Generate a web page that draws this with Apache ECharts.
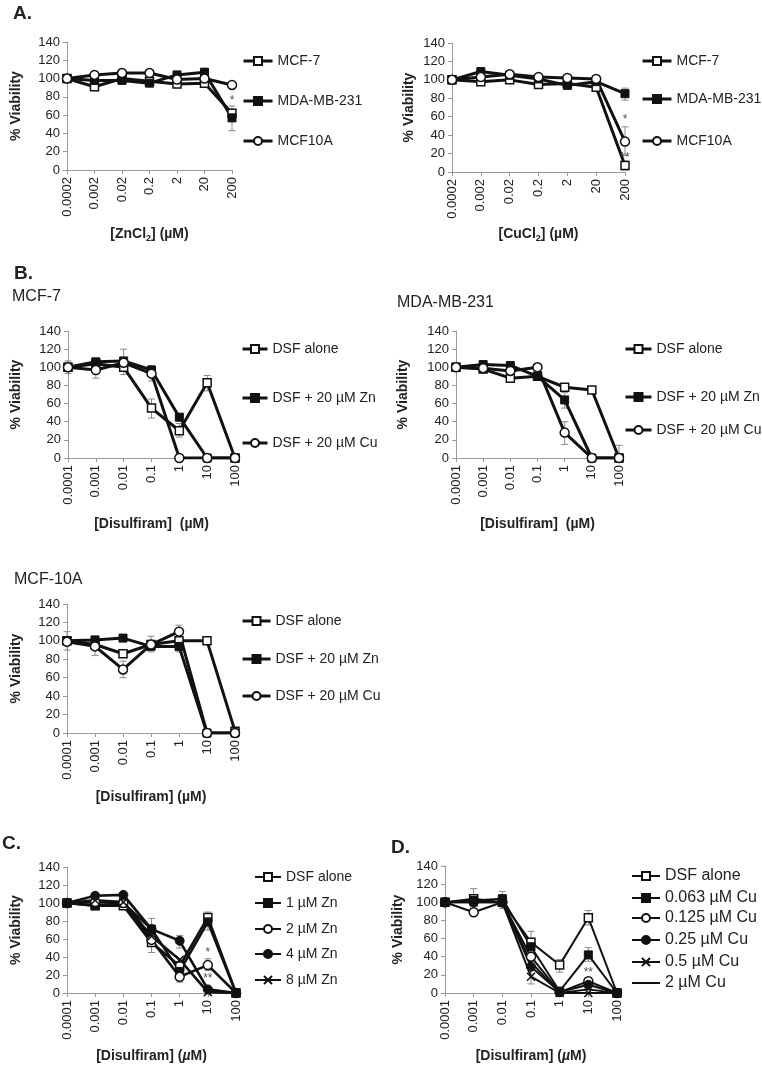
<!DOCTYPE html>
<html><head><meta charset="utf-8">
<script src="https://cdn.jsdelivr.net/npm/echarts@6/dist/echarts.min.js"></script>
<style>html,body{margin:0;padding:0;background:#fff}#c{width:762px;height:1070px}</style>
</head><body><div id="c"></div><script>
// ---------- DATA ----------
const catsMetal = ['0.0002','0.002','0.02','0.2','2','20','200'];
const catsDSF = ['0.0001','0.001','0.01','0.1','1','10','100'];

// Panel A: ZnCl2
const aZn_MCF7   = [100, 91, 100, 97, 94, 95, 62];
const aZn_MDA    = [100, 98, 98, 95, 104, 107, 57];
const aZn_MCF10A = [100, 104, 106, 106, 99, 100, 93];
const aZn_err    = [[6, 43, 70]];
const aZn_stars  = [[6, 76, '*']];

// Panel A: CuCl2
const aCu_MCF7   = [100, 98, 100, 95, 96, 92, 7];
const aCu_MDA    = [100, 109, 105, 101, 94, 98, 85];
const aCu_MCF10A = [100, 103, 106, 103, 102, 101, 33];
const aCu_err    = [[6, 78, 91], [6, 18, 49], [6, 2, 12]];
const aCu_stars  = [[6, 57, '*'], [6, 16, '**']];

// Panel B: MCF-7
const bMCF7_DSF = [100, 104, 100, 55, 30, 83, 0];
const bMCF7_Zn  = [100, 106, 107, 97, 45, 0, 0];
const bMCF7_Cu  = [100, 97, 105, 93, 0, 0, 0];
const bMCF7_err = [[0, 93, 107], [1, 88, 106], [2, 92, 120], [3, 44, 65], [3, 85, 102], [4, 23, 38], [5, 74, 91]];

// Panel B: MDA-MB-231
const bMDA_DSF = [100, 98, 88, 90, 78, 75, 0];
const bMDA_Zn  = [100, 103, 102, 90, 64, 0, 0];
const bMDA_Cu  = [100, 99, 96, 100, 28, 0, 0];
const bMDA_err = [[2, 84, 91], [4, 55, 72], [4, 15, 40], [6, 0, 14]];

// Panel B: MCF-10A
const b10A_DSF = [100, 96, 86, 96, 100, 100, 2];
const b10A_Zn  = [100, 101, 103, 94, 94, 0, 0];
const b10A_Cu  = [99, 94, 69, 96, 110, 0, 0];
const b10A_err = [[0, 90, 110], [1, 84, 100], [2, 60, 78], [3, 88, 105], [4, 103, 117], [4, 88, 100]];

// Panel C: DSF + Zn
const c_DSF  = [100, 97, 97, 56, 30, 84, 0];
const c_Zn1  = [100, 97, 100, 71, 24, 79, 0];
const c_Zn2  = [100, 101, 100, 59, 18, 31, 0];
const c_Zn4  = [100, 108, 109, 71, 58, 4, 0];
const c_Zn8  = [100, 103, 101, 63, 37, 1, 0];
const c_err  = [[3, 45, 65], [3, 60, 83], [4, 12, 30], [4, 50, 64], [5, 70, 90], [5, 25, 38]];
const c_stars = [[5, 45, '*'], [5, 16, '**']];

// Panel D: DSF + Cu
const d_DSF   = [100, 104, 100, 56, 31, 83, 0];
const d_Cu063 = [100, 102, 104, 51, 2, 42, 0];
const d_Cu125 = [100, 89, 100, 40, 1, 13, 0];
const d_Cu25  = [100, 100, 100, 29, 1, 9, 0];
const d_Cu5   = [100, 100, 100, 18, 0, 0, 0];
const d_Cu2   = [100, 101, 100, 34, 0, 4, 0];
const d_err   = [[1, 95, 115], [2, 93, 112], [3, 45, 68], [3, 10, 25], [4, 23, 37], [5, 75, 91], [5, 35, 50]];
const d_stars = [[5, 22, '**']];

// ---------- STYLE / LAYOUT ----------
const FONT = 'Liberation Sans, Arial, sans-serif';
const INK = '#111';
const AXIS = '#9a9a9a';
const SYM = {
  openSq: {symbol: 'rect', symbolSize: 8, itemStyle: {color: '#fff', borderColor: INK, borderWidth: 1.5}},
  fillSq: {symbol: 'rect', symbolSize: 8, itemStyle: {color: INK, borderColor: INK, borderWidth: 1}},
  openCi: {symbol: 'circle', symbolSize: 9, itemStyle: {color: '#fff', borderColor: INK, borderWidth: 1.5}},
  fillCi: {symbol: 'circle', symbolSize: 9, itemStyle: {color: INK, borderColor: INK, borderWidth: 1}},
  cross:  {symbol: 'path://M0,0L10,10M10,0L0,10', symbolSize: 8, itemStyle: {color: INK, borderColor: INK, borderWidth: 1.5}},
  none:   {symbol: 'none', symbolSize: 0, itemStyle: {color: INK}}
};

const xNameMetal = (m) => '{b|[' + m + 'Cl}{s|2}{b|] (µM)}';
const panels = [
  {grid: [67, 42, 165, 128], cats: catsMetal, xName: xNameMetal('Zn'), xGap: 55, yGap: 44, lw: 3,
   series: [['MCF-7', 'openSq', aZn_MCF7], ['MDA-MB-231', 'fillSq', aZn_MDA], ['MCF10A', 'openCi', aZn_MCF10A]],
   err: aZn_err, stars: aZn_stars, leg: {x: 242, ys: [62, 102, 142], w: 29, lw: 3, fs: 14}},
  {grid: [452, 43, 173, 129], cats: catsMetal, xName: xNameMetal('Cu'), xGap: 53, yGap: 36, lw: 3,
   series: [['MCF-7', 'openSq', aCu_MCF7], ['MDA-MB-231', 'fillSq', aCu_MDA], ['MCF10A', 'openCi', aCu_MCF10A]],
   err: aCu_err, stars: aCu_stars, leg: {x: 641, ys: [62, 100, 142], w: 29, lw: 3, fs: 14}},
  {grid: [68, 331, 167, 127], cats: catsDSF, xName: '{b|[Disulfiram]  (µM)}', xGap: 59, yGap: 45, lw: 3,
   series: [['DSF alone', 'openSq', bMCF7_DSF], ['DSF + 20 µM Zn', 'fillSq', bMCF7_Zn], ['DSF + 20 µM Cu', 'openCi', bMCF7_Cu]],
   err: bMCF7_err, stars: [], leg: {x: 241, ys: [350, 399, 444], w: 25, lw: 3, fs: 14}},
  {grid: [456, 331, 163, 127], cats: catsDSF, xName: '{b|[Disulfiram]  (µM)}', xGap: 59, yGap: 46, lw: 3,
   series: [['DSF alone', 'openSq', bMDA_DSF], ['DSF + 20 µM Zn', 'fillSq', bMDA_Zn], ['DSF + 20 µM Cu', 'openCi', bMDA_Cu]],
   err: bMDA_err, stars: [], leg: {x: 624, ys: [350, 398, 431], w: 26, lw: 3, fs: 14}},
  {grid: [67, 604, 168, 129], cats: catsDSF, xName: '{b|[Disulfiram] (µM)}', xGap: 57, yGap: 44, lw: 3,
   series: [['DSF alone', 'openSq', b10A_DSF], ['DSF + 20 µM Zn', 'fillSq', b10A_Zn], ['DSF + 20 µM Cu', 'openCi', b10A_Cu]],
   err: b10A_err, stars: [], leg: {x: 241, ys: [622, 660, 697], w: 28, lw: 3, fs: 14}},
  {grid: [67, 867, 169, 126], cats: catsDSF, xName: '{b|[Disulfiram] (}{i|µ}{b|M)}', xGap: 56, yGap: 44, lw: 2.6,
   series: [['DSF alone', 'openSq', c_DSF], ['1 µM Zn', 'fillSq', c_Zn1], ['2 µM Zn', 'openCi', c_Zn2], ['4 µM Zn', 'fillCi', c_Zn4], ['8 µM Zn', 'cross', c_Zn8]],
   err: c_err, stars: c_stars, leg: {x: 254, ys: [878, 904, 930, 955, 981], w: 26, lw: 2, fs: 14}},
  {grid: [445, 866, 172, 127], cats: catsDSF, xName: '{b|[Disulfiram] (}{i|µ}{b|M)}', xGap: 56, yGap: 40, lw: 2,
   series: [['DSF alone', 'openSq', d_DSF], ['0.063 µM Cu', 'fillSq', d_Cu063], ['0.125 µM Cu', 'openCi', d_Cu125], ['0.25 µM Cu', 'fillCi', d_Cu25], ['0.5 µM Cu', 'cross', d_Cu5], ['2 µM Cu', 'none', d_Cu2]],
   err: d_err, stars: d_stars, leg: {x: 631, ys: [876, 898, 918, 940, 962, 983], w: 28, lw: 2, fs: 16}}
];

const titles = [
  {text: 'A.', left: 13, top: 4, size: 19, bold: true},
  {text: 'B.', left: 14, top: 264, size: 19, bold: true},
  {text: 'MCF-7', left: 12, top: 289, size: 16, bold: false},
  {text: 'MDA-MB-231', left: 397, top: 295, size: 16, bold: false},
  {text: 'MCF-10A', left: 14, top: 572, size: 16, bold: false},
  {text: 'C.', left: 2, top: 834, size: 19, bold: true},
  {text: 'D.', left: 391, top: 838, size: 19, bold: true}
];

// ---------- BUILD ----------
const option = {
  animation: false,
  backgroundColor: '#fff',
  textStyle: {fontFamily: FONT},
  title: titles.map(t => ({text: t.text, left: t.left, top: t.top, padding: 0,
    textStyle: {fontFamily: FONT, fontSize: t.size, fontWeight: t.bold ? 'bold' : 'normal', color: '#222'}})),
  grid: [], xAxis: [], yAxis: [], legend: [], series: []
};

const nameRich = {
  b: {fontSize: 14, fontWeight: 'bold', color: '#222', fontFamily: FONT},
  i: {fontSize: 14, fontWeight: 'bold', fontStyle: 'italic', color: '#222', fontFamily: FONT},
  s: {fontSize: 9, fontWeight: 'bold', color: '#222', fontFamily: FONT, padding: [9, 0, 0, 0]}
};

panels.forEach((p, i) => {
  option.grid.push({left: p.grid[0], top: p.grid[1], width: p.grid[2], height: p.grid[3], containLabel: false});
  option.xAxis.push({
    type: 'category', gridIndex: i, data: p.cats, boundaryGap: false,
    name: p.xName, nameLocation: 'middle', nameGap: p.xGap,
    nameTextStyle: {rich: nameRich},
    axisLine: {lineStyle: {color: AXIS, width: 1}},
    axisTick: {alignWithLabel: true, length: 4, lineStyle: {color: AXIS}},
    axisLabel: {rotate: 90, fontSize: 13, color: '#222', fontFamily: FONT, margin: 7, interval: 0},
    splitLine: {show: false}
  });
  option.yAxis.push({
    type: 'value', gridIndex: i, min: 0, max: 140, interval: 20,
    name: '% Viability', nameLocation: 'middle', nameGap: p.yGap, nameRotate: 90,
    nameTextStyle: {fontSize: 14, fontWeight: 'bold', color: '#222', fontFamily: FONT},
    axisLine: {show: true, lineStyle: {color: AXIS, width: 1}},
    axisTick: {show: true, length: 4, lineStyle: {color: AXIS}},
    axisLabel: {fontSize: 13, color: '#222', fontFamily: FONT, margin: 7},
    splitLine: {show: false}
  });
  // error bars
  option.series.push({
    type: 'custom', xAxisIndex: i, yAxisIndex: i, data: p.err, z: 1, silent: true, clip: false,
    encode: {x: 0, y: [1, 2]},
    renderItem: (params, api) => {
      const idx = api.value(0);
      const lo = api.coord([idx, api.value(1)]);
      const hi = api.coord([idx, api.value(2)]);
      const c = 3.5, st = {stroke: '#8a8a8a', lineWidth: 1};
      return {type: 'group', children: [
        {type: 'line', shape: {x1: lo[0], y1: lo[1], x2: hi[0], y2: hi[1]}, style: st},
        {type: 'line', shape: {x1: lo[0] - c, y1: lo[1], x2: lo[0] + c, y2: lo[1]}, style: st},
        {type: 'line', shape: {x1: hi[0] - c, y1: hi[1], x2: hi[0] + c, y2: hi[1]}, style: st}
      ]};
    }
  });
  // data lines
  p.series.forEach(([name, sym, vals]) => {
    const s = SYM[sym];
    option.series.push({
      type: 'line', name: name, xAxisIndex: i, yAxisIndex: i, data: vals, z: 2,
      symbol: s.symbol, symbolSize: s.symbolSize, showSymbol: sym !== 'none', silent: true,
      itemStyle: Object.assign({}, s.itemStyle),
      lineStyle: {color: INK, width: p.lw},
      emphasis: {disabled: true}
    });
  });
  // stars
  if (p.stars.length) {
    option.series.push({
      type: 'custom', xAxisIndex: i, yAxisIndex: i, data: p.stars, z: 3, silent: true, clip: false,
      encode: {x: 0, y: 1},
      renderItem: (params, api) => {
        const pt = api.coord([api.value(0), api.value(1)]);
        return {type: 'text', x: pt[0], y: pt[1],
          style: {text: p.stars[params.dataIndex][2], fill: '#555', font: '12px ' + FONT, align: 'center', verticalAlign: 'middle'}};
      }
    });
  }
  // legends (one per item)
  p.series.forEach(([name, sym], k) => {
    const item = {name: name, lineStyle: {width: p.leg.lw, color: INK}};
    if (sym === 'none') item.itemStyle = {color: 'transparent', borderColor: 'transparent', borderWidth: 0, opacity: 0};
    option.legend.push({
      data: [item],
      left: p.leg.x, top: p.leg.ys[k] - 8, orient: 'vertical', padding: 0,
      itemWidth: p.leg.w, itemHeight: 10, itemGap: 3, selectedMode: false,
      textStyle: {fontSize: p.leg.fs, color: '#222', fontFamily: FONT}
    });
  });
});

const chart = echarts.init(document.getElementById('c'), null, {renderer: 'canvas'});
chart.setOption(option);
</script></body></html>
